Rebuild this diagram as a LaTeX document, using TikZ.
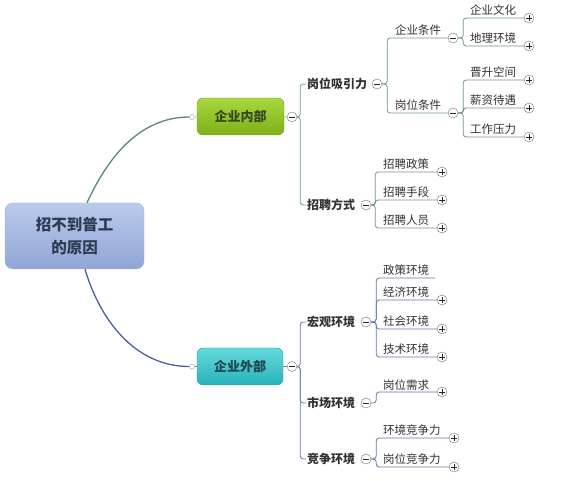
\documentclass[tikz,border=0pt]{standalone}
\usepackage{fontspec}
\setmainfont{Noto Sans CJK SC}
\definecolor{upline}{RGB}{84,138,118}
\definecolor{upthin}{RGB}{112,150,140}
\definecolor{lowline}{RGB}{72,96,160}
\definecolor{lowthin}{RGB}{98,118,170}
\definecolor{inktext}{RGB}{50,50,50}
\begin{document}
\begin{tikzpicture}[x=1pt,y=-1pt,
        rootbox/.style={rectangle, rounded corners=8pt, top color={rgb,255:red,186;green,202;blue,236}, bottom color={rgb,255:red,144;green,166;blue,214}, draw={rgb,255:red,160;green,178;blue,220}, minimum width=139pt, minimum height=66pt, align=center, font=\fontsize{15.5}{23}\selectfont\bfseries, text={rgb,255:red,44;green,58;blue,82}},
        innerbox/.style={rectangle, rounded corners=6pt, top color={rgb,255:red,170;green,214;blue,62}, bottom color={rgb,255:red,124;green,178;blue,24}, draw={rgb,255:red,110;green,156;blue,30}, minimum width=87pt, minimum height=37pt, font=\fontsize{13}{15}\selectfont\bfseries, text={rgb,255:red,58;green,70;blue,30}},
        outerbox/.style={rectangle, rounded corners=6pt, top color={rgb,255:red,100;green,218;blue,218}, bottom color={rgb,255:red,40;green,178;blue,188}, draw={rgb,255:red,40;green,150;blue,160}, minimum width=86pt, minimum height=37pt, font=\fontsize{13}{15}\selectfont\bfseries, text={rgb,255:red,30;green,70;blue,80}},
        dot/.style={circle, draw=gray!80, fill=white, thin, inner sep=0pt, minimum size=5pt},
        foldbtn/.style={circle, draw=gray!90!black, fill=white, thin, inner sep=0pt, minimum size=10pt,
            path picture={\draw[gray!30!black] ([xshift=-2.6pt]path picture bounding box.center) -- ([xshift=2.6pt]path picture bounding box.center);}},
        unfoldbtn/.style={circle, draw=gray!90!black, fill=white, thin, inner sep=0pt, minimum size=10pt,
            path picture={\draw[gray!30!black] ([xshift=-2.6pt]path picture bounding box.center) -- ([xshift=2.6pt]path picture bounding box.center);
                \draw[gray!30!black] ([yshift=-2.6pt]path picture bounding box.center) -- ([yshift=2.6pt]path picture bounding box.center);}},
        lvtwo/.style={anchor=west, inner sep=1pt, font=\fontsize{12}{14}\selectfont\bfseries, text=inktext},
        leaf/.style={anchor=base west, inner sep=0pt, font=\fontsize{11.5}{13}\selectfont, text=inktext},
        uplink/.style={draw=upthin, line width=0.8pt, rounded corners=3pt},
        lowlink/.style={draw=lowthin, line width=0.8pt, rounded corners=3pt},
        ]
                \useasboundingbox (0,0) rectangle (571,481);

                % centre and main branches
                \node[rootbox]  at(74.5,236) (root) {招不到普工\\的原因};
                \node[innerbox] at(240.5,116.5) (inner) {企业内部};
                \node[outerbox] at(240,366.5) (outer) {企业外部};
                \node[dot] at(192,117) (dotA) {};
                \node[dot] at(192,366.5) (dotB) {};
                \node[foldbtn] at(292,117) (mA) {};
                \node[foldbtn] at(292,366.5) (mB) {};

                \draw[upline, line width=1.3pt] ([xshift=12.5pt]root.north) .. controls (100,175) and (130,117) .. (dotA.west);
                \draw[lowline, line width=1.3pt] ([xshift=10.5pt]root.south) .. controls (100,320) and (135,366.5) .. (dotB.west);
                \draw[gray, thin] (dotA) -- (inner);
                \draw[gray, thin] (inner) -- (mA);
                \draw[gray, thin] (dotB) -- (outer);
                \draw[gray, thin] (outer) -- (mB);

                % second level
                \node[lvtwo] at(306,84) (attr) {岗位吸引力};
                \node[lvtwo] at(306,205) (recr) {招聘方式};
                \node[lvtwo] at(306,322) (macro) {宏观环境};
                \node[lvtwo] at(306,403) (market) {市场环境};
                \node[lvtwo] at(306,459) (compete) {竞争环境};
                \node[foldbtn] at(377,84) (m1) {};
                \node[foldbtn] at(366,205) (m2) {};
                \node[foldbtn] at(366,322) (m3) {};
                \node[foldbtn] at(366,403) (m4) {};
                \node[foldbtn] at(366,459) (m5) {};

                \draw[uplink] (mA.east) -- ++(3,0) |- (attr.west);
                \draw[uplink] (mA.east) -- ++(3,0) |- (recr.west);
                \draw[lowlink] (mB.east) -- ++(3,0) |- (macro.west);
                \draw[lowlink] (mB.east) -- ++(3,0) |- (market.west);
                \draw[lowlink] (mB.east) -- ++(3,0) |- (compete.west);

                % conditions
                \node[leaf] at(395,35) (corp) {企业条件};
                \node[leaf] at(395,110) (post) {岗位条件};
                \node[foldbtn] at(453,38) (m11) {};
                \node[foldbtn] at(453,113) (m12) {};
                \draw[uplink] (m1.east) -- ++(5,0) |- (m11.west);
                \draw[uplink] (m1.east) -- ++(5,0) |- (m12.west);

                \node[leaf] at(470,15) (culture) {企业文化};
                \node[leaf] at(470,43) (geo) {地理环境};
                \node[leaf] at(470,77) (promo) {晋升空间};
                \node[leaf] at(470,105) (salary) {薪资待遇};
                \node[leaf] at(470,134) (stress) {工作压力};
                \node[unfoldbtn] at(529,18) (p1) {};
                \node[unfoldbtn] at(529,46) (p2) {};
                \node[unfoldbtn] at(529,80) (p3) {};
                \node[unfoldbtn] at(529,108) (p4) {};
                \node[unfoldbtn] at(529,137) (p5) {};
                \draw[uplink] (m11.east) -- ++(5,0) |- (p1.west);
                \draw[uplink] (m11.east) -- ++(5,0) |- (p2.west);
                \draw[uplink] (m12.east) -- ++(5,0) |- (p3.west);
                \draw[uplink] (m12.east) -- ++(5,0) |- (p4.west);
                \draw[uplink] (m12.east) -- ++(5,0) |- (p5.west);

                % recruiting
                \node[leaf] at(383,169) (rpolicy) {招聘政策};
                \node[leaf] at(383,197) (rmeans) {招聘手段};
                \node[leaf] at(383,225) (rstaff) {招聘人员};
                \node[unfoldbtn] at(442,172) (p6) {};
                \node[unfoldbtn] at(442,200) (p7) {};
                \node[unfoldbtn] at(442,228) (p8) {};
                \draw[uplink] (m2.east) -- ++(4,0) |- (p6.west);
                \draw[uplink] (m2.east) -- ++(4,0) |- (p7.west);
                \draw[uplink] (m2.east) -- ++(4,0) |- (p8.west);

                % macro environment
                \node[leaf] at(383,275) (policy) {政策环境};
                \node[leaf] at(383,297) (economy) {经济环境};
                \node[leaf] at(383,326) (society) {社会环境};
                \node[leaf] at(383,354) (tech) {技术环境};
                \coordinate (policyend) at (435,278);
                \node[unfoldbtn] at(442,300) (p9) {};
                \node[unfoldbtn] at(442,329) (p10) {};
                \node[unfoldbtn] at(442,357) (p11) {};
                \draw[lowlink] (m3.east) -- ++(5,0) |- (policyend);
                \draw[lowlink] (m3.east) -- ++(5,0) |- (p9.west);
                \draw[lowlink] (m3.east) -- ++(5,0) |- (p10.west);
                \draw[lowlink] (m3.east) -- ++(5,0) |- (p11.west);

                % market and competition
                \node[leaf] at(383,389) (demand) {岗位需求};
                \node[unfoldbtn] at(442,392) (p12) {};
                \draw[lowlink] (m4.east) -- ++(5,0) |- (p12.west);

                \node[leaf] at(383,435) (envcomp) {环境竞争力};
                \node[leaf] at(383,464) (postcomp) {岗位竞争力};
                \node[unfoldbtn] at(454,438) (p13) {};
                \node[unfoldbtn] at(454,467) (p14) {};
                \draw[lowlink] (m5.east) -- ++(5,0) |- (p13.west);
                \draw[lowlink] (m5.east) -- ++(5,0) |- (p14.west);

            \end{tikzpicture}
\end{document}
